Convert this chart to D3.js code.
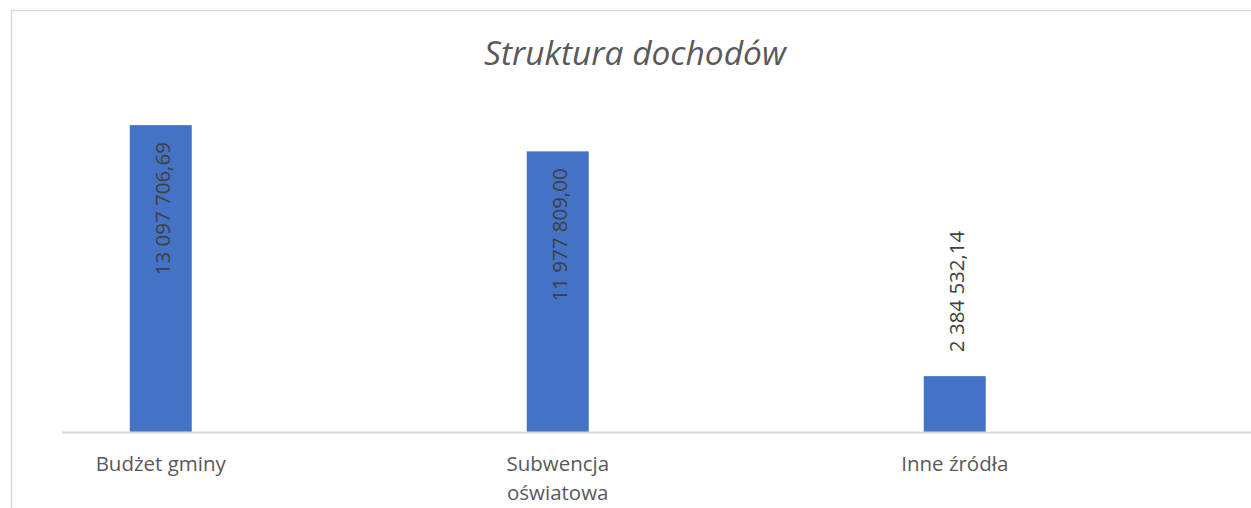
<!DOCTYPE html>
<html>
<head>
<meta charset="utf-8">
<script src="https://cdn.jsdelivr.net/npm/d3@7"></script>
<style>
  html, body { margin: 0; padding: 0; background: #fff; }
  svg { display: block; }
</style>
</head>
<body>
<svg id="chart" width="1251" height="508"></svg>
<script>
const categories = ["Budżet gminy", "Subwencja oświatowa", "Inne źródła"];
const categoryLines = [["Budżet gminy"], ["Subwencja", "oświatowa"], ["Inne źródła"]];
const series = ["Dochody", "(pusta seria)"];
const values = [13097706.69, 11977809.00, 2384532.14];
const valueLabels = ["13 097 706,69", "11 977 809,00", "2 384 532,14"];
const labelInside = [true, true, false];
const yDomain = [0, 14000000];
const title = "Struktura dochodów";

const W = 1251, H = 508;
const svg = d3.select("#chart");
const font = "'Open Sans', 'Noto Sans', sans-serif";

// chart frame
svg.append("rect")
  .attr("x", 11.5).attr("y", 10.5)
  .attr("width", 1260).attr("height", 520)
  .attr("fill", "#fff").attr("stroke", "#d9d9d9").attr("stroke-width", 1.5);

const plot = { left: 61.5, right: 1252.5, top: 104, bottom: 432 };

const x = d3.scaleBand().domain(categories).range([plot.left, plot.right]).padding(0);
const xs = d3.scaleBand().domain(series).range([0, x.bandwidth()]).padding(0);
const y = d3.scaleLinear().domain(yDomain).range([plot.bottom, plot.top]);
const barW = 62;
const barCenter = i => x(categories[i]) + xs(series[0]) + xs.bandwidth() / 2;

// title
svg.append("text")
  .attr("x", 635).attr("y", 65)
  .attr("text-anchor", "middle")
  .attr("font-family", font).attr("font-style", "italic")
  .attr("font-size", 33.5).attr("fill", "#595959")
  .text(title);

// bars
svg.selectAll("rect.bar").data(values).enter().append("rect")
  .attr("class", "bar")
  .attr("x", (d, i) => barCenter(i) - barW / 2)
  .attr("width", barW)
  .attr("y", d => y(d))
  .attr("height", d => y(0) - y(d))
  .attr("fill", "#4472c4");

// axis baseline
const axis = d3.axisBottom(x).tickSize(0).tickFormat("");
const gAxis = svg.append("g").attr("transform", `translate(0,${plot.bottom})`).call(axis);
gAxis.select(".domain").attr("stroke", "#d9d9d9").attr("stroke-width", 2);

// category labels
categoryLines.forEach((lines, i) => {
  const t = svg.append("text")
    .attr("text-anchor", "middle")
    .attr("font-family", font).attr("font-size", 20.5).attr("fill", "#595959");
  lines.forEach((ln, k) => {
    t.append("tspan")
      .attr("x", barCenter(i))
      .attr("y", 471 + k * 28.5)
      .text(ln);
  });
});

// value labels (rotated)
values.forEach((v, i) => {
  const cx = barCenter(i);
  const top = y(v);
  const endY = labelInside[i] ? top + 17 : top - 24;
  svg.append("text")
    .attr("transform", `translate(${cx + 1},${endY}) rotate(-90)`)
    .attr("text-anchor", labelInside[i] ? "end" : "start")
    .attr("dominant-baseline", "central")
    .attr("font-family", font).attr("font-size", 20.5)
    .attr("fill", "#404040")
    .text(valueLabels[i]);
});
</script>
</body>
</html>
